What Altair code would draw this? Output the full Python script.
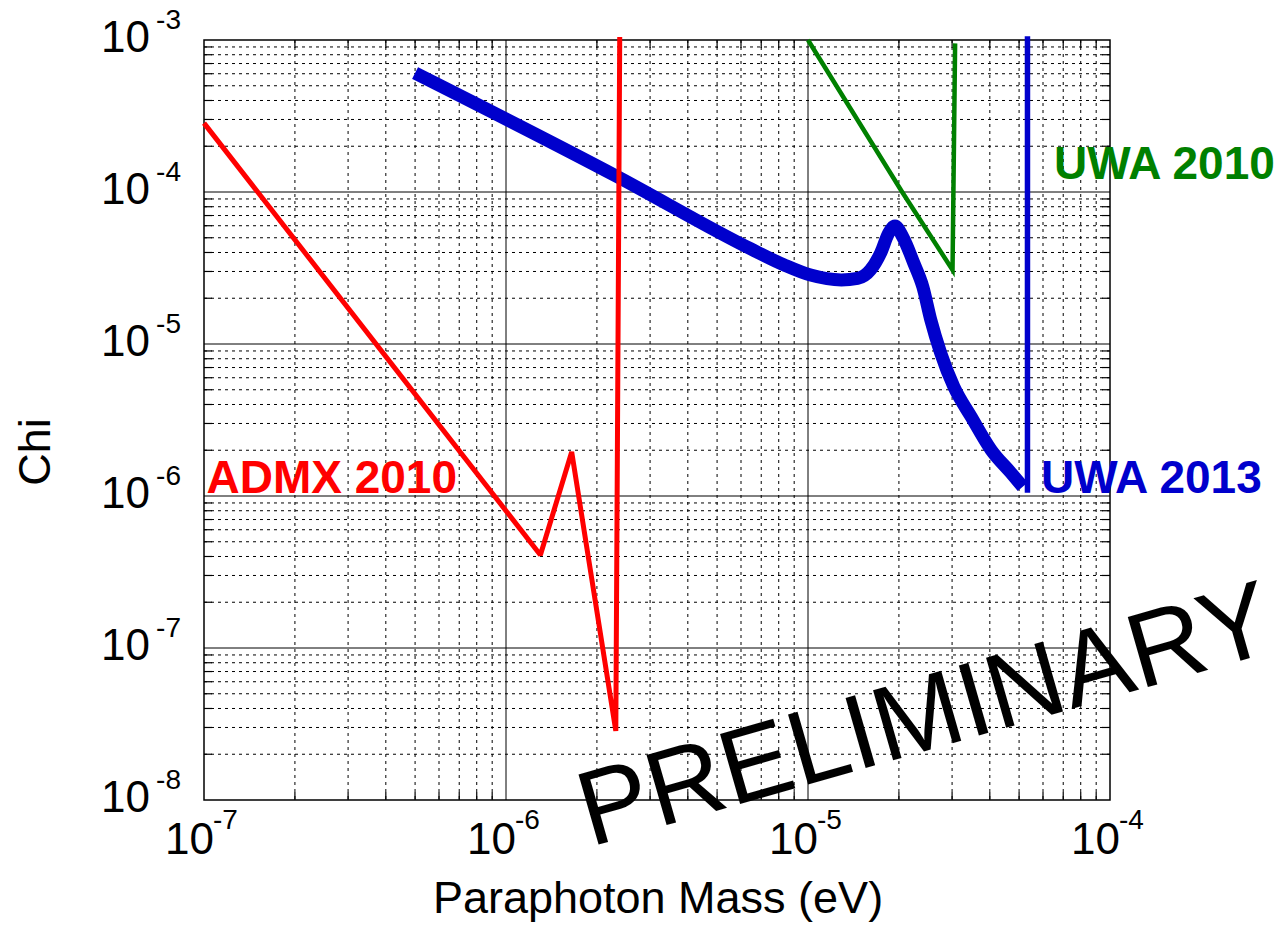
import altair as alt
import pandas as pd

# ---------------- data ----------------
admx_mass = [1.0e-7, 1.30e-6, 1.65e-6, 2.31e-6, 2.38e-6]
admx_chi = [2.84e-4, 4.09e-7, 1.95e-6, 2.85e-8, 1.047e-3]

uwa10_mass = [1.0e-5, 2.05e-5, 3.01e-5, 3.07e-5]
uwa10_chi = [1.0e-3, 1.0e-4, 3.07e-5, 9.5e-4]

uwa13_mass = [5.0e-7, 2.34e-6, 6.47e-6, 8.34e-6, 1.02e-5, 1.29e-5, 1.46e-5,
              1.61e-5, 1.74e-5, 1.85e-5, 1.94e-5, 2.06e-5, 2.24e-5, 2.40e-5,
              2.55e-5, 2.75e-5, 3.04e-5, 3.47e-5, 4.04e-5, 4.70e-5, 5.14e-5]
uwa13_chi = [6.06e-4, 1.26e-4, 4.22e-5, 3.31e-5, 2.84e-5, 2.64e-5, 2.70e-5,
             3.07e-5, 3.97e-5, 5.37e-5, 5.97e-5, 5.06e-5, 3.41e-5, 2.38e-5,
             1.44e-5, 8.73e-6, 5.24e-6, 3.32e-6, 2.01e-6, 1.42e-6, 1.15e-6]

uwa13_edge_mass = [5.33e-5, 5.33e-5]
uwa13_edge_chi = [1.05e-6, 1.06e-3]

x_major = [1e-7, 1e-6, 1e-5, 1e-4]
x_exp = ["-7", "-6", "-5", "-4"]
y_major = [1e-8, 1e-7, 1e-6, 1e-5, 1e-4, 1e-3]
y_exp = ["-8", "-7", "-6", "-5", "-4", "-3"]
minor_mult = [2, 3, 4, 5, 6, 7, 8, 9]
x_minor = [m * d for d in x_major[:-1] for m in minor_mult]
y_minor = [m * d for d in y_major[:-1] for m in minor_mult]

labels = ["ADMX 2010", "UWA 2010", "UWA 2013"]
label_mass = [1.019e-7, 6.53e-5, 5.91e-5]
label_chi = [1.05e-6, 1.21e-4, 1.05e-6]
label_color = ["#ff0000", "#008000", "#0000cc"]

W, H = 906, 760
FONT = "Liberation Sans"

xscale = alt.Scale(type="log", domain=[1e-7, 1e-4], nice=False)
yscale = alt.Scale(type="log", domain=[1e-8, 1e-3], nice=False)


def X(f):
    return alt.X(f, type="quantitative", scale=xscale, axis=None)


def Y(f):
    return alt.Y(f, type="quantitative", scale=yscale, axis=None)


def series(mass, chi):
    return pd.DataFrame({"m": mass, "c": chi, "i": list(range(len(mass)))})


# ---------------- grid ----------------
xmin_df = pd.DataFrame({"m": x_minor})
ymin_df = pd.DataFrame({"c": y_minor})
xmaj_df = pd.DataFrame({"m": x_major[1:-1]})
ymaj_df = pd.DataFrame({"c": y_major[1:-1]})

dash = [3, 4]
grid_x_minor = alt.Chart(xmin_df).mark_rule(color="black", strokeWidth=1, strokeDash=dash).encode(
    x=X("m"), y=alt.value(0), y2=alt.value(H))
grid_y_minor = alt.Chart(ymin_df).mark_rule(color="black", strokeWidth=1, strokeDash=dash).encode(
    y=Y("c"), x=alt.value(0), x2=alt.value(W))
grid_x_major = alt.Chart(xmaj_df).mark_rule(color="black", strokeWidth=1).encode(
    x=X("m"), y=alt.value(0), y2=alt.value(H))
grid_y_major = alt.Chart(ymaj_df).mark_rule(color="black", strokeWidth=1).encode(
    y=Y("c"), x=alt.value(0), x2=alt.value(W))

TL = 8
ticks = [
    alt.Chart(ymin_df).mark_rule(color="black", strokeWidth=1.2).encode(
        y=Y("c"), x=alt.value(0), x2=alt.value(TL)),
    alt.Chart(ymin_df).mark_rule(color="black", strokeWidth=1.2).encode(
        y=Y("c"), x=alt.value(W - TL), x2=alt.value(W)),
    alt.Chart(xmin_df).mark_rule(color="black", strokeWidth=1.2).encode(
        x=X("m"), y=alt.value(H - TL), y2=alt.value(H)),
    alt.Chart(xmin_df).mark_rule(color="black", strokeWidth=1.2).encode(
        x=X("m"), y=alt.value(0), y2=alt.value(TL)),
]

# ---------------- tick labels ----------------
xt_df = pd.DataFrame({"m": x_major, "b": ["10"] * len(x_major), "e": x_exp})
yt_df = pd.DataFrame({"c": y_major, "b": ["10"] * len(y_major), "e": y_exp})

BASE_FS, EXP_FS = 44, 28
xt_base = alt.Chart(xt_df).mark_text(font=FONT, fontSize=BASE_FS, align="right", baseline="alphabetic",
                                     dx=10, color="black").encode(x=X("m"), y=alt.value(814), text="b:N")
xt_exp = alt.Chart(xt_df).mark_text(font=FONT, fontSize=EXP_FS, align="left", baseline="alphabetic",
                                    dx=9, color="black").encode(x=X("m"), y=alt.value(789), text="e:N")
yt_base = alt.Chart(yt_df).mark_text(font=FONT, fontSize=BASE_FS, align="right", baseline="alphabetic",
                                     dy=12, color="black").encode(y=Y("c"), x=alt.value(-54), text="b:N")
yt_exp = alt.Chart(yt_df).mark_text(font=FONT, fontSize=EXP_FS, align="right", baseline="alphabetic",
                                    dy=-11.5, color="black").encode(y=Y("c"), x=alt.value(-23), text="e:N")

# ---------------- axis titles ----------------
xtitle = alt.Chart(pd.DataFrame({"t": ["Paraphoton Mass (eV)"]})).mark_text(
    font=FONT, fontSize=45, align="center", baseline="alphabetic", color="black").encode(
    x=alt.value(454), y=alt.value(873), text="t:N")
ytitle = alt.Chart(pd.DataFrame({"t": ["Chi"]})).mark_text(
    font=FONT, fontSize=45, align="center", baseline="alphabetic", angle=270, color="black").encode(
    x=alt.value(-154), y=alt.value(412), text="t:N")

# ---------------- data lines ----------------
blue_edge = alt.Chart(series(uwa13_edge_mass, uwa13_edge_chi)).mark_line(
    color="#0000cc", strokeWidth=5.5, clip=False).encode(x=X("m"), y=Y("c"), order="i:Q")
green = alt.Chart(series(uwa10_mass, uwa10_chi)).mark_line(
    color="#008000", strokeWidth=4.5, clip=False).encode(x=X("m"), y=Y("c"), order="i:Q")
blue = alt.Chart(series(uwa13_mass, uwa13_chi)).mark_line(
    color="#0000cc", strokeWidth=13, strokeJoin="bevel", interpolate="monotone", clip=False).encode(
    x=X("m"), y=Y("c"), order="i:Q")
red = alt.Chart(series(admx_mass, admx_chi)).mark_line(
    color="#ff0000", strokeWidth=5, strokeJoin="bevel", clip=False).encode(
    x=X("m"), y=Y("c"), order="i:Q")

# ---------------- labels ----------------
lab_df = pd.DataFrame({"m": label_mass, "c": label_chi, "t": labels, "col": label_color})
lab = alt.Chart(lab_df).mark_text(font=FONT, fontSize=46, fontWeight="bold", align="left",
                                  baseline="alphabetic").encode(
    x=X("m"), y=Y("c"), text="t:N", color=alt.Color("col:N", scale=None))

prelim = alt.Chart(pd.DataFrame({"m": [1.90e-6], "c": [4.9e-9], "t": ["PRELIMINARY"]})).mark_text(
    font=FONT, fontSize=106, align="left", baseline="alphabetic", angle=344, color="black").encode(
    x=X("m"), y=Y("c"), text="t:N")

chart = alt.layer(
    grid_x_minor, grid_y_minor, grid_x_major, grid_y_major, *ticks,
    blue_edge, green, blue, red,
    lab, prelim,
    xt_base, xt_exp, yt_base, yt_exp, xtitle, ytitle,
).properties(
    width=W, height=H,
    autosize=alt.AutoSizeParams(type="none"),
    padding={"left": 204, "top": 40, "right": 170, "bottom": 134},
    background="white",
).configure_view(stroke="black", strokeWidth=1.5)

chart.save("out.html", embed_options={"renderer": "svg", "actions": False})
